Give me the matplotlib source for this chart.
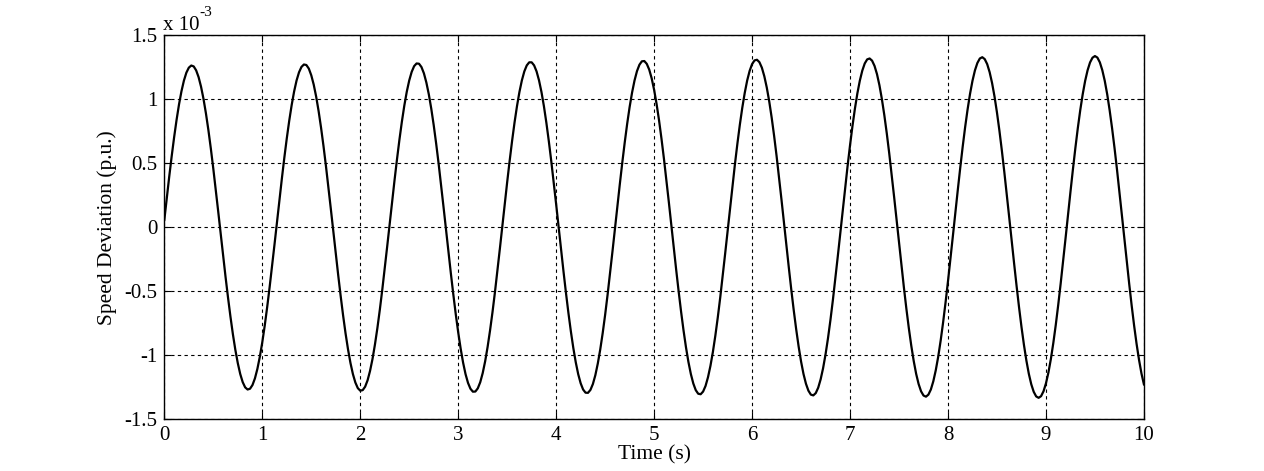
import numpy as np
import matplotlib
matplotlib.use("Agg")
import matplotlib.pyplot as plt

plt.rcParams['font.family'] = ['Liberation Serif', 'DejaVu Serif']
plt.rcParams['axes.unicode_minus'] = False

# Speed deviation (x 1e-3 p.u.) at t = 0, 0.05, ..., 10 s
speed_dev_e3 = [
    0.057, 0.395, 0.703, 0.960, 1.146, 1.247, 1.257, 1.173, 1.003, 0.759,
    0.458, 0.124, -0.220, -0.548, -0.836, -1.062, -1.210, -1.268, -1.233, -1.107,
    -0.899, -0.624, -0.303, 0.040, 0.381, 0.694, 0.955, 1.147, 1.253, 1.268,
    1.188, 1.021, 0.778, 0.478, 0.142, -0.205, -0.536, -0.829, -1.060, -1.213,
    -1.277, -1.246, -1.123, -0.917, -0.644, -0.322, 0.023, 0.367, 0.684, 0.951,
    1.147, 1.259, 1.278, 1.203, 1.039, 0.798, 0.498, 0.160, -0.189, -0.524,
    -0.821, -1.058, -1.216, -1.285, -1.259, -1.140, -0.936, -0.664, -0.342, 0.005,
    0.353, 0.674, 0.946, 1.148, 1.265, 1.289, 1.218, 1.057, 0.817, 0.517,
    0.179, -0.173, -0.512, -0.813, -1.055, -1.219, -1.293, -1.271, -1.156, -0.955,
    -0.684, -0.361, -0.012, 0.338, 0.663, 0.940, 1.147, 1.270, 1.299, 1.232,
    1.074, 0.837, 0.537, 0.198, -0.156, -0.499, -0.805, -1.052, -1.221, -1.301,
    -1.284, -1.172, -0.974, -0.704, -0.381, -0.030, 0.323, 0.653, 0.934, 1.147,
    1.275, 1.309, 1.247, 1.092, 0.857, 0.558, 0.217, -0.139, -0.486, -0.796,
    -1.049, -1.223, -1.308, -1.296, -1.188, -0.993, -0.724, -0.401, -0.049, 0.308,
    0.641, 0.928, 1.146, 1.280, 1.319, 1.261, 1.110, 0.876, 0.578, 0.237,
    -0.122, -0.472, -0.788, -1.045, -1.225, -1.315, -1.308, -1.204, -1.012, -0.744,
    -0.421, -0.067, 0.292, 0.630, 0.921, 1.145, 1.284, 1.329, 1.275, 1.127,
    0.896, 0.598, 0.256, -0.105, -0.458, -0.778, -1.041, -1.227, -1.322, -1.320,
    -1.220, -1.030, -0.764, -0.441, -0.086, 0.276, 0.618, 0.915, 1.144, 1.288,
    1.338, 1.289, 1.145, 0.915, 0.619, 0.276, -0.087, -0.444, -0.769, -1.036,
    -1.228,
]

# Speed deviation (x 1e-3 p.u.) read at the in-between times t = 0.025, 0.075, ..., 9.975 s
speed_dev_mid_e3 = [
    0.228, 0.554, 0.839, 1.063, 1.208, 1.264, 1.226, 1.098, 0.889, 0.614,
    0.294, -0.048, -0.388, -0.698, -0.958, -1.147, -1.251, -1.262, -1.181, -1.012,
    -0.769, -0.468, -0.133, 0.212, 0.543, 0.832, 1.061, 1.211, 1.272, 1.240,
    1.115, 0.908, 0.634, 0.313, -0.032, -0.374, -0.689, -0.953, -1.147, -1.257,
    -1.273, -1.196, -1.030, -0.788, -0.488, -0.151, 0.197, 0.530, 0.825, 1.059,
    1.214, 1.280, 1.252, 1.131, 0.927, 0.654, 0.332, -0.015, -0.360, -0.679,
    -0.948, -1.148, -1.262, -1.284, -1.211, -1.048, -0.807, -0.508, -0.170, 0.181,
    0.518, 0.818, 1.057, 1.218, 1.289, 1.265, 1.148, 0.946, 0.673, 0.351,
    0.003, -0.346, -0.669, -0.943, -1.148, -1.268, -1.294, -1.225, -1.065, -0.827,
    -0.527, -0.188, 0.165, 0.505, 0.809, 1.053, 1.220, 1.297, 1.277, 1.164,
    0.964, 0.693, 0.371, 0.021, -0.331, -0.658, -0.937, -1.147, -1.273, -1.305,
    -1.240, -1.083, -0.847, -0.548, -0.207, 0.148, 0.493, 0.801, 1.050, 1.222,
    1.304, 1.290, 1.180, 0.984, 0.714, 0.391, 0.039, -0.315, -0.647, -0.931,
    -1.147, -1.277, -1.314, -1.254, -1.101, -0.867, -0.568, -0.227, 0.131, 0.479,
    0.792, 1.047, 1.224, 1.312, 1.302, 1.197, 1.002, 0.734, 0.411, 0.058,
    -0.300, -0.636, -0.925, -1.146, -1.282, -1.324, -1.268, -1.118, -0.886, -0.588,
    -0.246, 0.114, 0.465, 0.783, 1.043, 1.226, 1.319, 1.314, 1.212, 1.021,
    0.754, 0.431, 0.076, -0.284, -0.624, -0.918, -1.145, -1.286, -1.333, -1.282,
    -1.136, -0.905, -0.608, -0.266, 0.096, 0.451, 0.774, 1.039, 1.227, 1.325,
    1.326, 1.228, 1.040, 0.774, 0.452, 0.095, -0.268, -0.612, -0.911, -1.143,
]

sample_step_s = 0.05

x_ticks = [0, 1, 2, 3, 4, 5, 6, 7, 8, 9, 10]
y_ticks = [-1.5, -1, -0.5, 0, 0.5, 1, 1.5]
y_tick_labels = ['-1.5', '-1', '-0.5', '0', '0.5', '1', '1.5']

# merge the two sample sets into one time-ordered series
t_main = np.arange(len(speed_dev_e3)) * sample_step_s
t_mid = t_main[:-1] + sample_step_s / 2
t_all = np.empty(len(t_main) + len(t_mid))
y_all = np.empty_like(t_all)
t_all[0::2] = t_main
t_all[1::2] = t_mid
y_all[0::2] = speed_dev_e3
y_all[1::2] = speed_dev_mid_e3

fig = plt.figure(figsize=(12.64, 4.71), dpi=100)
ax = fig.add_axes([0.13, 0.11, 0.775, 0.815])

ax.plot(t_all, y_all, color='black', linewidth=1.6)

ax.set_xlim(0, 10)
ax.set_ylim(-1.5, 1.5)
ax.set_xticks(x_ticks)
ax.set_xticklabels([str(v) for v in x_ticks])
ax.set_yticks(y_ticks)
ax.set_yticklabels(y_tick_labels)

ax.grid(True, color='black', linestyle=(0, (3, 3)), linewidth=0.8)
ax.tick_params(direction='in', length=5, width=0.8, labelsize=15,
               top=True, right=True, pad=5, colors='black')
for sp in ax.spines.values():
    sp.set_linewidth(1.0)
    sp.set_color('black')

ax.set_xlabel('Time (s)', fontsize=15.5, labelpad=0)
ax.set_ylabel('Speed Deviation (p.u.)', fontsize=15.5, labelpad=5)

ax.text(-0.0015, 1.0143, 'x 10', transform=ax.transAxes, fontsize=15,
        ha='left', va='baseline')
ax.text(0.036, 1.0494, '-3', transform=ax.transAxes, fontsize=11,
        ha='left', va='baseline')

fig.savefig('out.png', dpi=100)
